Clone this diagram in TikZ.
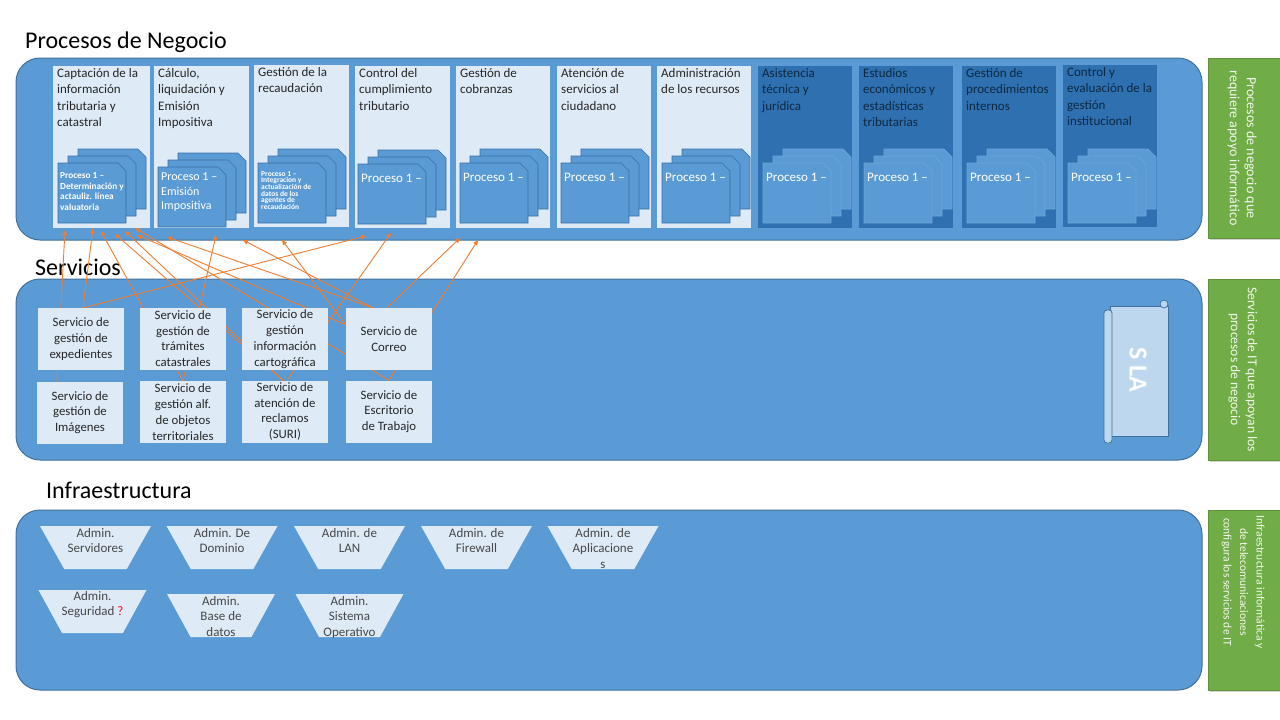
\documentclass[tikz,border=0pt]{standalone}
\usepackage{fontspec}
\setmainfont{Carlito}
\usetikzlibrary{arrows.meta,shapes.geometric,shadows}
\definecolor{bandblue}{HTML}{5B9BD5}
\definecolor{bandedge}{HTML}{41719C}
\definecolor{lightcol}{HTML}{DEEBF7}
\definecolor{darkcol}{HTML}{2E70B0}
\definecolor{stackfill}{HTML}{5B9BD5}
\definecolor{stackedge}{HTML}{3B6FA3}
\definecolor{stackedgeB}{HTML}{6FA6DA}
\definecolor{txtdark}{HTML}{262626}
\definecolor{txtnavy}{HTML}{0E2841}
\definecolor{greenbox}{HTML}{70AD47}
\definecolor{greentext}{HTML}{F2F7EE}
\definecolor{arrowor}{HTML}{ED7D31}
\definecolor{slafill}{HTML}{BDD7EE}
\pgfdeclarelayer{back}
\pgfdeclarelayer{mid}
\pgfsetlayers{back,mid,main}
\newcommand\procstack[3]{%
  \foreach \d in {2,1,0}{%
    \filldraw[fill=stackfill,draw=#3,line width=0.6pt]
      ({#1+10*\d},{#2-7*\d}) -- ++(60,0) -- ++(8,8) -- ++(0,52) -- ++(-68,0) -- cycle;}}
\begin{document}
\begin{tikzpicture}[x=1pt,y=-1pt,
  band/.style={fill=bandblue,draw=bandedge,line width=1pt,rounded corners=24},
  title/.style={anchor=west,font=\fontsize{24}{27}\selectfont,text=black,inner sep=0},
  colbox/.style={anchor=north west,minimum width=95,minimum height=162,inner sep=0,draw=none},
  coltext/.style={anchor=north west,align=left,inner sep=2,font=\fontsize{13}{16.5}\selectfont,text=txtdark},
  ptext/.style={anchor=north west,align=left,inner sep=1,text=white},
  svc/.style={fill=lightcol,minimum width=86,minimum height=62,inner sep=0,align=center,
     font=\fontsize{12.8}{15.8}\selectfont,text=txtdark},
  trap/.style={trapezium,trapezium stretches=true,shape border rotate=180,
     trapezium left angle=65,trapezium right angle=65,minimum width=111,minimum height=43,
     inner sep=2pt,fill=lightcol},
  traptext/.style={anchor=north,align=center,inner sep=1,font=\fontsize{13}{15.5}\selectfont,text=txtdark!85},
  gbox/.style={fill=greenbox,draw=greenbox!85!black,line width=0.5pt,minimum width=74,minimum height=180,inner sep=0,
     drop shadow={shadow xshift=2pt,shadow yshift=-2pt,opacity=0.35}},
  gtext/.style={rotate=-90,align=center,inner sep=0,font=\fontsize{14}{17}\selectfont,text=greentext},
  conn/.style={draw=arrowor,line width=0.9pt,-{Triangle[length=5pt,width=4.5pt]}}
]
\useasboundingbox (0,0) rectangle (1280,720);
\begin{pgfonlayer}{back}
\fill[white] (0,0) rectangle (1280,720);
\draw[band] (16,58) rectangle (1202,240);
\draw[band] (16,279) rectangle (1202,460);
\draw[band] (16,510) rectangle (1202,690);
\node[title] (tproc) at (25,42) {Procesos de Negocio};
\node[title] (tserv) at (35,267) {Servicios};
\node[title] (tinfra) at (46,490) {Infraestructura};
% process columns
\node[colbox,fill=lightcol,minimum width=97] (c1) at (53,66) {};
\node[colbox,fill=lightcol] (c2) at (154,66) {};
\node[colbox,fill=lightcol] (c3) at (254,65) {};
\node[colbox,fill=lightcol] (c4) at (355,66) {};
\node[colbox,fill=lightcol,minimum width=94] (c5) at (456,66) {};
\node[colbox,fill=lightcol,minimum width=94] (c6) at (557,66) {};
\node[colbox,fill=lightcol,minimum width=94] (c7) at (657,66) {};
\node[colbox,fill=darkcol,minimum width=94] (c8) at (758,66) {};
\node[colbox,fill=darkcol,minimum width=94] (c9) at (859,66) {};
\node[colbox,fill=darkcol,minimum width=94] (c10) at (962,66) {};
\node[colbox,fill=darkcol,minimum width=94] (c11) at (1063,65) {};
\node[coltext] (c1t) at ([xshift=2]c1.north west) {Captación de la\\información\\tributaria y\\catastral};
\node[coltext] (c2t) at ([xshift=2]c2.north west) {Cálculo,\\liquidación y\\Emisión\\Impositiva};
\node[coltext] (c3t) at ([xshift=2]c3.north west) {Gestión de la\\recaudación};
\node[coltext] (c4t) at ([xshift=2]c4.north west) {Control del\\cumplimiento\\tributario};
\node[coltext] (c5t) at ([xshift=2]c5.north west) {Gestión de\\cobranzas};
\node[coltext] (c6t) at ([xshift=2]c6.north west) {Atención de\\servicios al\\ciudadano};
\node[coltext] (c7t) at ([xshift=2]c7.north west) {Administración\\de los recursos};
\node[coltext,text=txtnavy] (c8t) at ([xshift=2]c8.north west) {Asistencia\\técnica y\\jurídica};
\node[coltext,text=txtnavy] (c9t) at ([xshift=2]c9.north west) {Estudios\\económicos y\\estadísticas\\tributarias};
\node[coltext,text=txtnavy] (c10t) at ([xshift=2]c10.north west) {Gestión de\\procedimientos\\internos};
\node[coltext,text=txtnavy] (c11t) at ([xshift=2]c11.north west) {Control y\\evaluación de la\\gestión\\institucional};
% process stacks
\procstack{58}{163}{stackedge}
\procstack{158}{167}{stackedge}
\procstack{258}{163}{stackedge}
\procstack{358}{164}{stackedge}
\procstack{460}{163}{stackedge}
\procstack{561}{163}{stackedge}
\procstack{662}{163}{stackedge}
\procstack{763}{163}{stackedgeB}
\procstack{864}{163}{stackedgeB}
\procstack{967}{163}{stackedgeB}
\procstack{1068}{163}{stackedgeB}
\node[ptext,font=\bfseries\fontsize{9.3}{10.8}\selectfont] (p1) at (59,171) {Proceso 1 –\\Determinación y\\actauliz. línea\\valuatoria};
\node[ptext,font=\fontsize{12}{14.5}\selectfont] (p2) at (160,172) {Proceso 1 –\\Emisión\\Impositiva};
\node[ptext,font=\bfseries\fontsize{7.5}{6.2}\selectfont] (p3) at (260,170) {Proceso 1 –\\Integracion y\\actualización de\\datos de los\\agentes de\\recaudación};
\node[ptext,font=\fontsize{13}{14}\selectfont] (p4) at (360,173) {Proceso 1 –};
\node[ptext,font=\fontsize{13}{14}\selectfont] (p5) at (462,172) {Proceso 1 –};
\node[ptext,font=\fontsize{13}{14}\selectfont] (p6) at (563,172) {Proceso 1 –};
\node[ptext,font=\fontsize{13}{14}\selectfont] (p7) at (664,172) {Proceso 1 –};
\node[ptext,font=\fontsize{13}{14}\selectfont] (p8) at (765,172) {Proceso 1 –};
\node[ptext,font=\fontsize{13}{14}\selectfont] (p9) at (866,172) {Proceso 1 –};
\node[ptext,font=\fontsize{13}{14}\selectfont] (p10) at (969,172) {Proceso 1 –};
\node[ptext,font=\fontsize{13}{14}\selectfont] (p11) at (1070,172) {Proceso 1 –};
% SLA scroll
\draw[fill=slafill,draw=bandedge,line width=0.8pt] (1110,306) rectangle (1168,436);
\draw[fill=slafill,draw=bandedge,line width=0.8pt,rounded corners=3] (1104,310) rectangle (1112,443);
\draw[fill=slafill,draw=bandedge,line width=0.8pt] (1164,304) circle (4pt);
\node[rotate=-90,inner sep=0,font=\bfseries\fontsize{26}{28}\selectfont,text=white] (sla) at (1138,370) {S LA};
% green labels
\node[gbox] (g1) at (1245,148) {};
\node[gbox,minimum height=181] (g2) at (1245,369.5) {};
\node[gbox] (g3) at (1245,600) {};
\node[gtext] (g1t) at ([xshift=-3]g1.center) {Procesos de negocio que\\requiere apoyo informático};
\node[gtext,font=\fontsize{13.6}{17}\selectfont] (g2t) at ([xshift=-2]g2.center) {Servicios de IT que apoyan los\\procesos de negocio};
\node[gtext,font=\fontsize{11.5}{16.5}\selectfont] (g3t) at ([xshift=-2,yshift=18]g3.center) {Infraestructura informática y\\de telecomunicaciones\\configura los servicios de IT};
\end{pgfonlayer}
% services
\node[svc] (exp) at (81,339) {Servicio de\\gestión de\\expedientes};
\node[svc] (tra) at (183,338.5) {Servicio de\\gestión de\\trámites\\catastrales};
\node[svc] (car) at (285,339) {Servicio de\\gestión\\información\\cartográfica};
\node[svc] (cor) at (389,339) {Servicio de\\Correo};
\node[svc] (img) at (80,412.5) {Servicio de\\gestión de\\Imágenes};
\node[svc] (obj) at (183,412) {Servicio de\\gestión alf.\\de objetos\\territoriales};
\node[svc] (rec) at (285,411.5) {Servicio de\\atención de\\reclamos\\(SURI)};
\node[svc] (esc) at (389,411.5) {Servicio de\\Escritorio\\de Trabajo};
% infrastructure
\node[trap] (i1) at (95.5,547.5) {\phantom{M}};
\node[trap] (i2) at (222,547.5) {\phantom{M}};
\node[trap] (i3) at (349.5,547.5) {\phantom{M}};
\node[trap] (i4) at (476.5,547.5) {\phantom{M}};
\node[trap] (i5) at (603,547.5) {\phantom{M}};
\node[trap,minimum width=108] (i6) at (92.5,611.5) {\phantom{M}};
\node[trap,minimum width=108] (i7) at (221,615.5) {\phantom{M}};
\node[trap,minimum width=108] (i8) at (349.5,615.5) {\phantom{M}};
\node[traptext] (i1t) at ([yshift=-1]i1.north) {Admin.\\Servidores};
\node[traptext] (i2t) at ([yshift=-1]i2.north) {Admin. De\\Dominio};
\node[traptext] (i3t) at ([yshift=-1]i3.north) {Admin. de\\LAN};
\node[traptext] (i4t) at ([yshift=-1]i4.north) {Admin. de\\Firewall};
\node[traptext] (i5t) at ([yshift=-1]i5.north) {Admin. de\\Aplicacione\\s};
\node[traptext] (i6t) at (i6.north) {Admin.\\Seguridad \textcolor{red}{?}};
\node[traptext] (i7t) at ([yshift=-1]i7.north) {Admin.\\Base de\\datos};
\node[traptext] (i8t) at ([yshift=-1]i8.north) {Admin.\\Sistema\\Operativo};
% arrow targets
\coordinate (tA) at (65,230);
\coordinate (tB) at (93,228);
\coordinate (tC) at (101,231);
\coordinate (tD) at (115,234);
\coordinate (tE) at (125,231);
\coordinate (tF) at (135,228);
\coordinate (tG) at (137,235);
\coordinate (tH) at (167,237);
\coordinate (tJ) at (216,235);
\coordinate (tK) at (243,240);
\coordinate (tL) at (282,240);
\coordinate (tM) at (366,236);
\coordinate (tN) at (391,233);
\coordinate (tP) at (460,238);
\coordinate (tO) at (478,240);
\begin{pgfonlayer}{mid}
\draw[conn] ([xshift=-23]img.north) -- (tA);
\draw[conn] ([xshift=2]exp.north) -- (tB);
\draw[conn] ([xshift=2]exp.north) -- (tM);
\draw[conn] (obj.north) -- (tC);
\draw[conn] (obj.north) -- (tJ);
\draw[conn] ([xshift=-2]rec.north) -- (tD);
\draw[conn] ([xshift=-2]rec.north) -- (tE);
\draw[conn] ([xshift=2]rec.north) -- (tN);
\draw[conn] (esc.north) -- (tF);
\draw[conn] (esc.north) -- (tO);
\draw[conn] ([yshift=-17]cor.north west) -- (tG);
\draw[conn] ([xshift=-16]cor.north) -- (tH);
\draw[conn] ([xshift=-16]cor.north) -- (tK);
\draw[conn] ([yshift=-17]cor.north west) -- (tL);
\draw[conn] ([xshift=-2]cor.north) -- (tP);
\end{pgfonlayer}
\end{tikzpicture}
\end{document}
